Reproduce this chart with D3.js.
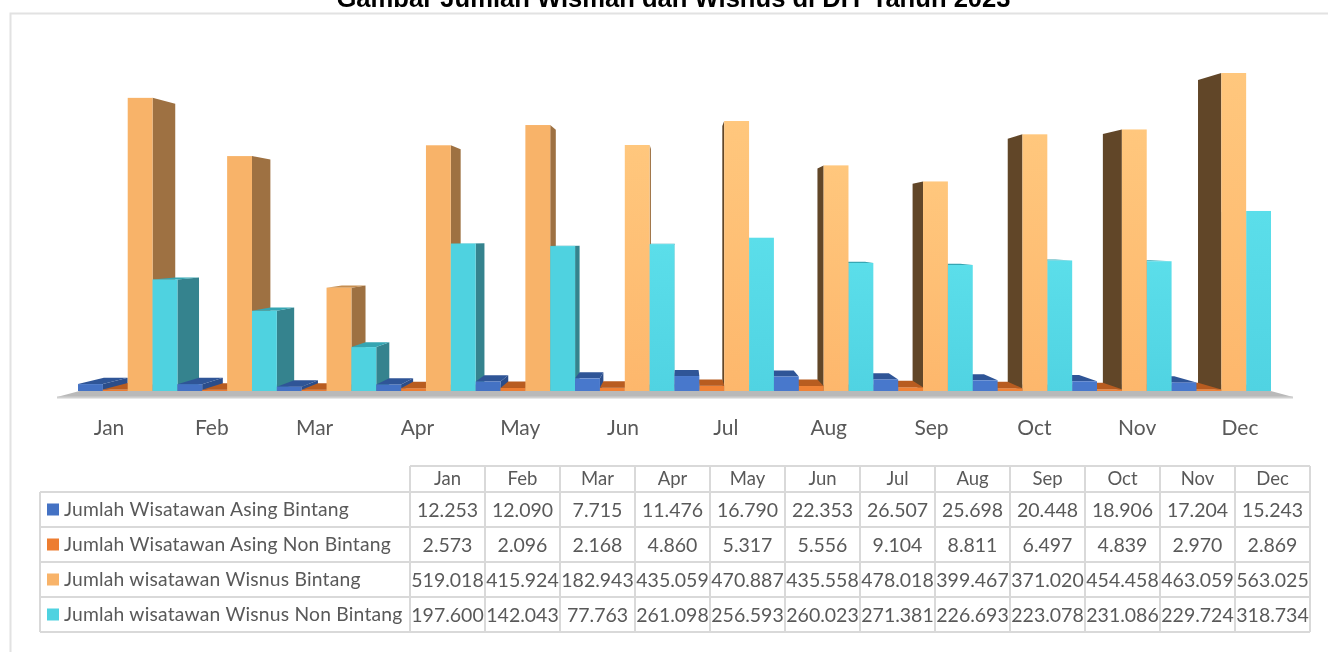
<!DOCTYPE html>
<html><head><meta charset="utf-8">
<script src="https://cdn.jsdelivr.net/npm/d3@7/dist/d3.min.js"></script>
<style>html,body{margin:0;padding:0;background:#fff;overflow:hidden}svg{display:block;font-family:Lato,"Open Sans",sans-serif;filter:blur(.35px)}</style>
</head><body><div id="chart"></div>
<script>
const chartTitle = "Gambar Jumlah Wisman dan Wisnus di DIY Tahun 2023";
const months = ["Jan","Feb","Mar","Apr","May","Jun","Jul","Aug","Sep","Oct","Nov","Dec"];
const seriesNames = ["Jumlah Wisatawan Asing Bintang","Jumlah Wisatawan Asing Non Bintang","Jumlah wisatawan Wisnus Bintang","Jumlah wisatawan Wisnus Non Bintang"];
const asingBintang = [12253,12090,7715,11476,16790,22353,26507,25698,20448,18906,17204,15243];
const asingNonBintang = [2573,2096,2168,4860,5317,5556,9104,8811,6497,4839,2970,2869];
const wisnusBintang = [519018,415924,182943,435059,470887,435558,478018,399467,371020,454458,463059,563025];
const wisnusNonBintang = [197600,142043,77763,261098,256593,260023,271381,226693,223078,231086,229724,318734];
const seriesValues = [asingBintang,asingNonBintang,wisnusBintang,wisnusNonBintang];
const frontColors = ["#4472c4","#ed7d31","#f8b369","#4fd2e0"];
const frontColorsBright = ["#4878cc","#f08236","url(#gOrange)","url(#gCyan)"];
const topColors = ["#2f5597","#b85c20","#c68e50","#35a5b2"];
const sideLeft = ["#2b4d8a","#a5561f","#9e7142","#35838e"];
const sideRight = ["#2b4d8a","#a5561f","#614628","#2f6f78"];

const W=1328,H=652;
const svg=d3.select("#chart").append("svg").attr("width",W).attr("height",H);
const defs=svg.append("defs");
[["gOrange","#ffc77d","#fdb76c"],["gCyan","#5bdeea","#50d3e2"]].forEach(([id,a,b])=>{
  const g=defs.append("linearGradient").attr("id",id).attr("x1",0).attr("x2",0).attr("y1",0).attr("y2",1);
  g.append("stop").attr("offset","0%").attr("stop-color",a);
  g.append("stop").attr("offset","100%").attr("stop-color",b);
});

// chart frame
svg.append("path").attr("d",`M10.5,652V13.5H${W}`).attr("fill","none").attr("stroke","#e2e2e2").attr("stroke-width",2);
svg.append("text").attr("x",673.5).attr("y",7).attr("text-anchor","middle")
  .attr("font-family","Liberation Sans,Arial,sans-serif").attr("font-weight",700).attr("font-size",25.6).attr("fill","#000").text(chartTitle);

// scales
const base=391, k=0.043, vx=680, vy=237;
const x0=d3.scaleBand().domain(months).range([78,1271]);
const x1=d3.scaleBand().domain(d3.range(4)).range([0,x0.bandwidth()]);
const y=d3.scaleLinear().domain([0,563025]).range([base,73]);
const bx=px=>px+k*(vx-px), by=py=>py+k*(vy-py);

// floor
const fl=x0.range()[0], fr=x0.range()[1];
const floor=svg.append("g");
floor.append("polygon").attr("fill","#b9b9b9").attr("points",[
  [fl-21,397],[fr+22,397],[bx(fr),by(base)],[bx(fl),by(base)]].join(" "));
floor.append("rect").attr("x",fl-21).attr("y",396.5).attr("width",fr-fl+43).attr("height",2).attr("fill","#d0d0d0");

// bars painted far-from-centre first
const bars=[];
months.forEach((m,i)=>seriesValues.forEach((vals,s)=>{
  const xa=x0(m)+x1(s), xb=xa+x1.bandwidth();
  bars.push({m,i,s,v:vals[i],xa,xb,mid:(xa+xb)/2});
}));
bars.sort((a,b)=>Math.abs(b.mid-vx)-Math.abs(a.mid-vx));
const g=svg.append("g");
bars.forEach(d=>{
  const yt=y(d.v), left=d.mid<vx, sx=left?d.xb:d.xa;
  const gg=g.append("g");
  gg.append("polygon").attr("fill",(left?sideLeft:sideRight)[d.s])
    .attr("points",[[sx,yt],[bx(sx),by(yt)],[bx(sx),by(base)],[sx,base]].join(" "));
  if(by(yt)<yt) gg.append("polygon").attr("fill",topColors[d.s])
    .attr("points",[[d.xa,yt],[d.xb,yt],[bx(d.xb),by(yt)],[bx(d.xa),by(yt)]].join(" "));
  gg.append("rect").attr("x",d.xa).attr("y",yt).attr("width",d.xb-d.xa).attr("height",base-yt)
    .attr("fill",(d.i>=5?frontColorsBright:frontColors)[d.s]);
});

// category labels
const labelX=d3.scalePoint().domain(months).range([109,1240]);
svg.append("g").selectAll("text").data(months).join("text")
  .attr("x",d=>labelX(d)).attr("y",435).attr("text-anchor","middle")
  .attr("font-size",21).attr("fill","#595959").text(d=>d);

// data table
const colX=d3.scaleBand().domain(months).range([410,1310]);
const rowY=d3.scaleBand().domain(d3.range(4)).range([492,632]);
const tLeft=40, line="#d9d9d9";
const tbl=svg.append("g");
const ln=(a,b,c,e)=>tbl.append("line").attr("x1",a).attr("y1",b).attr("x2",c).attr("y2",e).attr("stroke",line).attr("stroke-width",2);
ln(410,466,1310,466);
ln(tLeft,492,1310,492);
d3.range(1,5).forEach(r=>ln(tLeft,rowY(r-1)+rowY.bandwidth(),1310,rowY(r-1)+rowY.bandwidth()));
ln(tLeft,492,tLeft,632);
ln(410,466,410,632);
months.forEach(m=>ln(colX(m)+colX.bandwidth(),466,colX(m)+colX.bandwidth(),632));
tbl.selectAll("text.h").data(months).join("text").attr("class","h")
  .attr("x",d=>colX(d)+colX.bandwidth()/2).attr("y",485).attr("text-anchor","middle")
  .attr("font-size",18.5).attr("fill","#595959").text(d=>d);
const fmt=v=>{const s=String(v);return s.slice(0,-3)+"."+s.slice(-3)};
seriesNames.forEach((n,r)=>{
  const cy=rowY(r)+rowY.bandwidth()/2;
  tbl.append("rect").attr("x",47).attr("y",cy-6).attr("width",12).attr("height",12).attr("fill",frontColors[r]);
  tbl.append("text").attr("x",64).attr("y",cy+6.5).attr("font-size",19.3).attr("letter-spacing",.2).attr("fill","#595959").text(n);
  tbl.selectAll("text.v"+r).data(seriesValues[r]).join("text").attr("class","v"+r)
    .attr("x",(d,i)=>colX(months[i])+colX.bandwidth()/2).attr("y",cy+7)
    .attr("text-anchor","middle").attr("font-size",19.5).attr("fill","#595959").text(fmt);
});
</script></body></html>
